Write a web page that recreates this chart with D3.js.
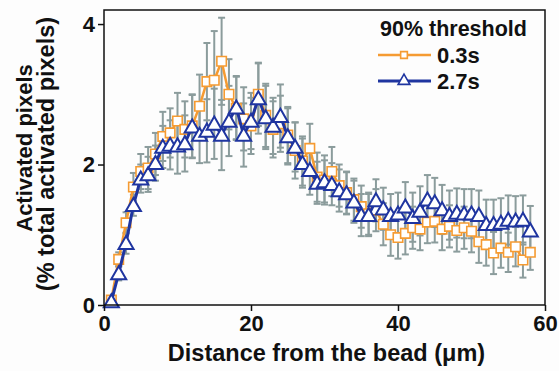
<!DOCTYPE html>
<html lang="en">
<head>
    <meta charset="UTF-8">
    <title>Activated pixels vs distance</title>
    <style>
        body {
            margin: 0;
            background: #fdfdfd;
        }
        text {
            font-family: "Liberation Sans", Arial, sans-serif;
            font-weight: bold;
            fill: #111;
        }
    </style>
</head>

<body>
    <svg id="container" width="559" height="371"></svg>
</body>

<script src="https://cdn.jsdelivr.net/npm/d3@7"></script>

<script>
    // distance from the bead (um)
    let distances = [1, 2, 3, 4, 5, 6, 7, 8, 9, 10, 11, 12, 13, 14, 15, 16, 17, 18, 19, 20,
        21, 22, 23, 24, 25, 26, 27, 28, 29, 30, 31, 32, 33, 34, 35, 36, 37, 38, 39, 40,
        41, 42, 43, 44, 45, 46, 47, 48, 49, 50, 51, 52, 53, 54, 55, 56, 57, 58]

    // 0.3s series
    let fast = [0.07, 0.65, 1.17, 1.68, 1.90, 1.95, 2.15, 2.40, 2.45, 2.62,
        2.50, 2.55, 2.83, 3.18, 3.20, 3.47, 3.00, 2.80, 2.65, 2.55,
        3.00, 2.70, 2.50, 2.58, 2.42, 2.20, 2.05, 2.23, 1.82, 1.78,
        1.90, 1.70, 1.60, 1.50, 1.40, 1.30, 1.35, 1.15, 1.00, 0.96,
        1.02, 1.10, 1.08, 1.18, 1.19, 1.08, 1.12, 1.06, 1.10, 1.05,
        0.90, 0.86, 0.74, 0.81, 0.75, 0.83, 0.64, 0.75]
    let fastErr = [0.05, 0.10, 0.15, 0.20, 0.25, 0.30, 0.30, 0.35, 0.35, 0.40,
        0.40, 0.45, 0.45, 0.55, 0.70, 0.62, 0.50, 0.45, 0.45, 0.40,
        0.45, 0.45, 0.40, 0.40, 0.40, 0.40, 0.35, 0.35, 0.35, 0.35,
        0.35, 0.30, 0.30, 0.30, 0.30, 0.30, 0.30, 0.30, 0.30, 0.30,
        0.30, 0.30, 0.30, 0.30, 0.30, 0.30, 0.30, 0.30, 0.30, 0.30,
        0.30, 0.30, 0.30, 0.28, 0.28, 0.28, 0.25, 0.25]

    // 2.7s series
    let slow = [0.05, 0.45, 0.88, 1.42, 1.80, 1.86, 2.02, 2.25, 2.28, 2.27,
        2.30, 2.54, 2.42, 2.48, 2.58, 2.42, 2.62, 2.81, 2.42, 2.62,
        2.94, 2.67, 2.55, 2.69, 2.40, 2.25, 2.02, 1.92, 1.74, 1.76,
        1.72, 1.63, 1.59, 1.47, 1.28, 1.28, 1.49, 1.37, 1.28, 1.30,
        1.40, 1.25, 1.34, 1.50, 1.46, 1.36, 1.28, 1.31, 1.30, 1.30,
        1.28, 1.15, 1.15, 1.17, 1.21, 1.20, 1.21, 1.06]
    let slowErr = [0.05, 0.10, 0.15, 0.15, 0.20, 0.25, 0.25, 0.30, 0.35, 0.40,
        0.40, 0.45, 0.40, 0.45, 0.50, 0.50, 0.50, 0.45, 0.45, 0.40,
        0.50, 0.45, 0.40, 0.45, 0.40, 0.35, 0.35, 0.35, 0.30, 0.30,
        0.30, 0.30, 0.30, 0.30, 0.30, 0.30, 0.30, 0.30, 0.30, 0.30,
        0.35, 0.35, 0.35, 0.35, 0.35, 0.35, 0.35, 0.35, 0.35, 0.35,
        0.35, 0.35, 0.35, 0.35, 0.35, 0.35, 0.35, 0.35]

    let xTicks = [0, 20, 40, 60]
    let yTicks = [0, 2, 4]

    let orange = "#f59b32"
    let blue = "#1f35a0"
    let errGrey = "#8b9c9c"

    let svg = d3.select("#container")

    let plotLeft = 104, plotRight = 545, plotTop = 10, plotBottom = 305

    let xScale = d3.scaleLinear().domain([0, 60]).range([plotLeft, plotRight])
    let yScale = d3.scaleLinear().domain([0, 4.2]).range([plotBottom, plotTop])

    let series = [
        { name: "0.3s", values: fast, errs: fastErr, color: orange, symbol: d3.symbolSquare, size: 90, width: 2.5 },
        { name: "2.7s", values: slow, errs: slowErr, color: blue, symbol: d3.symbolTriangle, size: 98, width: 3 }
    ]

    let points = s => distances.map((d, i) => ({ x: d, y: s.values[i], e: s.errs[i] }))

    // error bars first, behind everything
    series.forEach(s => {
        let g = svg.append("g")
            .attr("stroke", errGrey)
            .attr("stroke-width", 2)
        let pts = points(s)
        g.selectAll(".bar").data(pts).enter().append("line")
            .attr("x1", d => xScale(d.x)).attr("x2", d => xScale(d.x))
            .attr("y1", d => yScale(d.y - d.e)).attr("y2", d => yScale(d.y + d.e))
        g.selectAll(".capTop").data(pts).enter().append("line")
            .attr("x1", d => xScale(d.x) - 3.5).attr("x2", d => xScale(d.x) + 3.5)
            .attr("y1", d => yScale(d.y + d.e)).attr("y2", d => yScale(d.y + d.e))
        g.selectAll(".capBot").data(pts).enter().append("line")
            .attr("x1", d => xScale(d.x) - 3.5).attr("x2", d => xScale(d.x) + 3.5)
            .attr("y1", d => yScale(d.y - d.e)).attr("y2", d => yScale(d.y - d.e))
    })

    let line = d3.line().x(d => xScale(d.x)).y(d => yScale(d.y))

    series.forEach(s => {
        let pts = points(s)
        svg.append("path")
            .datum(pts)
            .attr("fill", "none")
            .attr("stroke", s.color)
            .attr("stroke-width", s.width)
            .attr("stroke-linejoin", "round")
            .attr("d", line)

        svg.append("g").selectAll("path").data(pts).enter().append("path")
            .attr("d", d3.symbol(s.symbol, s.size))
            .attr("transform", d => `translate(${xScale(d.x)},${yScale(d.y) + (s.symbol === d3.symbolTriangle ? 1.5 : 0)})`)
            .attr("fill", "#fff")
            .attr("stroke", s.color)
            .attr("stroke-width", s.symbol === d3.symbolTriangle ? 2 : 1.6)
    })

    // frame
    svg.append("rect")
        .attr("x", plotLeft).attr("y", plotTop)
        .attr("width", plotRight - plotLeft).attr("height", plotBottom - plotTop)
        .attr("fill", "none")
        .attr("stroke", "#111")
        .attr("stroke-width", 1.5)

    let xAxis = d3.axisBottom(xScale).tickValues(xTicks).tickSize(6).tickPadding(4)
    let xAxisGroup = svg.append("g")
        .attr("transform", `translate(0,${plotBottom})`)
        .call(xAxis)
    let yAxis = d3.axisLeft(yScale).tickValues(yTicks).tickFormat(d3.format("d")).tickSize(6).tickPadding(3)
    let yAxisGroup = svg.append("g")
        .attr("transform", `translate(${plotLeft},0)`)
        .call(yAxis)

    for (let ax of [xAxisGroup, yAxisGroup]) {
        ax.attr("font-family", null).attr("font-size", null)
        ax.select(".domain").remove()
        ax.selectAll(".tick line").attr("stroke", "#111").attr("stroke-width", 1.5)
        ax.selectAll("text").attr("font-size", 22).attr("fill", "#111")
    }

    // axis titles
    svg.append("text")
        .attr("x", (plotLeft + plotRight) / 2 + 2)
        .attr("y", 361)
        .attr("text-anchor", "middle")
        .attr("font-size", 23.5)
        .text("Distance from the bead (\u03bcm)")

    svg.append("text")
        .attr("transform", "translate(31.5,148) rotate(-90)")
        .attr("text-anchor", "middle")
        .attr("font-size", 22)
        .text("Activated pixels")
    svg.append("text")
        .attr("transform", "translate(53.5,154) rotate(-90)")
        .attr("text-anchor", "middle")
        .attr("font-size", 23.5)
        .text("(% total activated pixels)")

    // legend
    let legend = svg.append("g")
    legend.append("text")
        .attr("x", 380).attr("y", 36)
        .attr("font-size", 21.5)
        .text("90% threshold")

    series.forEach((s, i) => {
        let ly = 55 + i * 26
        legend.append("line")
            .attr("x1", 378).attr("x2", 431)
            .attr("y1", ly).attr("y2", ly)
            .attr("stroke", s.color)
            .attr("stroke-width", s.width)
        legend.append("path")
            .attr("d", d3.symbol(s.symbol, s.symbol === d3.symbolTriangle ? 60 : 45))
            .attr("transform", `translate(404,${ly})`)
            .attr("fill", "#fff")
            .attr("stroke", s.color)
            .attr("stroke-width", 1.6)
        legend.append("text")
            .attr("x", 437).attr("y", ly + 8)
            .attr("font-size", 22)
            .text(s.name)
    })
</script>

</html>
